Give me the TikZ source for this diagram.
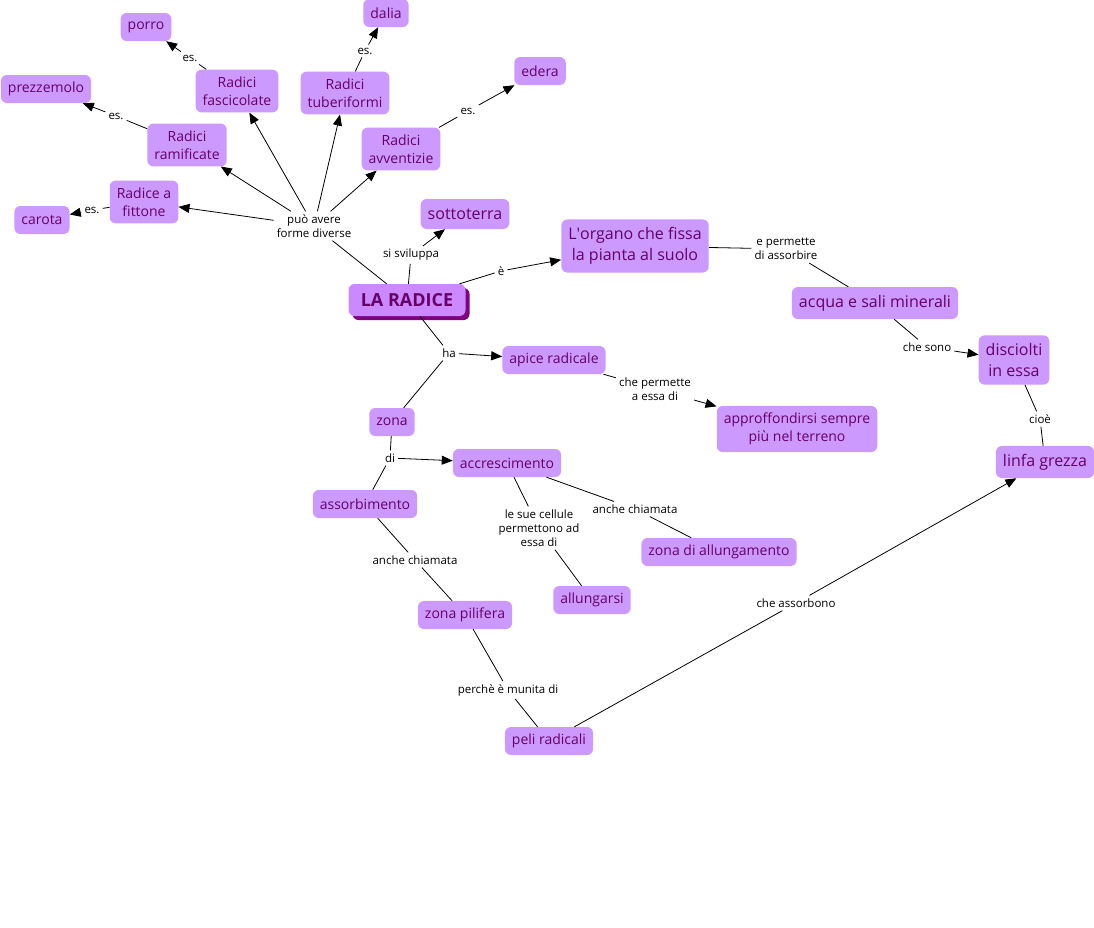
\documentclass[tikz,border=0pt]{standalone}
\usepackage{fontspec}
\setmainfont{Open Sans}
\usepackage{tikz}
\usetikzlibrary{arrows.meta,shadows}
\definecolor{conceptcol}{HTML}{CC99FF}
\definecolor{concepttext}{HTML}{660066}
\definecolor{rootcol}{HTML}{CC88FF}
\definecolor{rootshadow}{HTML}{800080}

\begin{document}
\begin{tikzpicture}[
  x=1pt, y=-1pt,
  every node/.style={font=\fontsize{11.5}{14}\selectfont},
  concept/.style={fill=conceptcol, text=concepttext, rounded corners=6pt, align=center, inner xsep=7pt, inner ysep=7pt, minimum height=28pt, font=\fontsize{14}{18}\selectfont},
  bigconcept/.style={concept, inner ysep=8pt, minimum height=30pt, font=\fontsize{16}{21}\selectfont},
  root/.style={concept, fill=rootcol, font=\fontsize{18}{20}\selectfont\bfseries, minimum width=117pt, minimum height=32pt, drop shadow={shadow xshift=4pt, shadow yshift=-4pt, fill=rootshadow, opacity=1}},
  linking/.style={align=center, inner sep=3pt, fill=white, text=black},
  link/.style={draw, line width=0.8pt},
  arrow/.style={link, -{Triangle[length=11pt,width=9pt]}}
]
\useasboundingbox (0,0) rectangle (1094,927);

\node[concept] (porro) at (146,27) {porro};
\node[concept] (dalia) at (386,13) {dalia};
\node[concept] (edera) at (540,71) {edera};
\node[concept] (prezz) at (46,89) {prezzemolo};
\node[concept] (fascic) at (237,91) {Radici\\fascicolate};
\node[concept] (tuber) at (345,93) {Radici\\tuberiformi};
\node[concept] (ramif) at (187,145) {Radici\\ramificate};
\node[concept] (avvent) at (401,149) {Radici\\avventizie};
\node[concept] (fittone) at (144,202) {Radice a\\fittone};
\node[concept] (carota) at (42,220) {carota};
\node[bigconcept] (sotto) at (465,214) {sottoterra};
\node[bigconcept] (organo) at (635,246) {L\textquotesingle organo che fissa\\la pianta al suolo};
\node[bigconcept] (acqua) at (875,303) {acqua e sali minerali};
\node[bigconcept] (disc) at (1014,360) {disciolti\\in essa};
\node[bigconcept] (linfa) at (1045,462) {linfa grezza};
\node[root] (radice) at (407,300) {LA RADICE};
\node[concept] (apice) at (554,360) {apice radicale};
\node[concept] (approf) at (797,429) {approffondirsi sempre\\più nel terreno};
\node[concept] (zona) at (392,422) {zona};
\node[concept] (accr) at (507,463) {accrescimento};
\node[concept] (assorb) at (365,504) {assorbimento};
\node[concept] (zallung) at (719,552) {zona di allungamento};
\node[concept] (allung) at (592,600) {allungarsi};
\node[concept] (pilifera) at (465,615) {zona pilifera};
\node[concept] (peli) at (549,741) {peli radicali};

\node[linking] (les1) at (190,58) {es.};
\node[linking] (les2) at (365,51) {es.};
\node[linking] (les3) at (468,111) {es.};
\node[linking] (les4) at (116,116) {es.};
\node[linking] (les5) at (92,210) {es.};
\node[linking] (lforme) at (314,226) {può avere\\forme diverse};
\node[linking] (lsvil) at (411,255) {si sviluppa};
\node[linking] (le) at (501,271) {è};
\node[linking] (lperm) at (786,249) {e permette\\di assorbire};
\node[linking] (lsono) at (927,347) {che sono};
\node[linking] (lcioe) at (1040,419) {cioè};
\node[linking] (lha) at (449,353) {ha};
\node[linking] (lessa) at (655,389) {che permette\\a essa di};
\node[linking] (ldi) at (390,458) {di};
\node[linking] (lcell) at (539,528) {le sue cellule\\permettono ad\\essa di};
\node[linking] (lchiam1) at (635,509) {anche chiamata};
\node[linking] (lchiam2) at (415,560) {anche chiamata};
\node[linking] (lmunita) at (508,690) {perchè è munita di};
\node[linking] (lassorb) at (796,603) {che assorbono};

\draw[link] (fascic) -- (les1);
\draw[arrow] (les1) -- (porro);
\draw[link] (tuber) -- (les2);
\draw[arrow] (les2) -- (dalia);
\draw[link] (avvent) -- (les3);
\draw[arrow] (les3) -- (edera);
\draw[link] (ramif) -- (les4);
\draw[arrow] (les4) -- (prezz);
\draw[link] (fittone) -- (les5);
\draw[arrow] (les5) -- (carota);

\draw[link] (radice) -- (lforme);
\draw[arrow] (lforme) -- (fittone);
\draw[arrow] (lforme) -- (ramif);
\draw[arrow] (lforme) -- (fascic);
\draw[arrow] (lforme) -- (tuber);
\draw[arrow] (lforme) -- (avvent);

\draw[link] (radice) -- (lsvil);
\draw[arrow] (lsvil) -- (sotto);
\draw[link] (radice) -- (le);
\draw[arrow] (le) -- (organo);
\draw[link] (organo) -- (lperm);
\draw[link] (lperm) -- (acqua);
\draw[link] (acqua) -- (lsono);
\draw[arrow] (lsono) -- (disc);
\draw[link] (disc) -- (lcioe);
\draw[link] (lcioe) -- (linfa);

\draw[link] (radice) -- (lha);
\draw[arrow] (lha) -- (apice);
\draw[link] (lha) -- (zona);
\draw[link] (apice) -- (lessa);
\draw[arrow] (lessa) -- (approf);
\draw[link] (zona) -- (ldi);
\draw[arrow] (ldi) -- (accr);
\draw[link] (ldi) -- (assorb);
\draw[link] (accr) -- (lcell);
\draw[link] (lcell) -- (allung);
\draw[link] (accr) -- (lchiam1);
\draw[link] (lchiam1) -- (zallung);
\draw[link] (assorb) -- (lchiam2);
\draw[link] (lchiam2) -- (pilifera);
\draw[link] (pilifera) -- (lmunita);
\draw[link] (lmunita) -- (peli);
\draw[link] (peli) -- (lassorb);
\draw[arrow] (lassorb) -- (linfa);
\end{tikzpicture}
\end{document}
